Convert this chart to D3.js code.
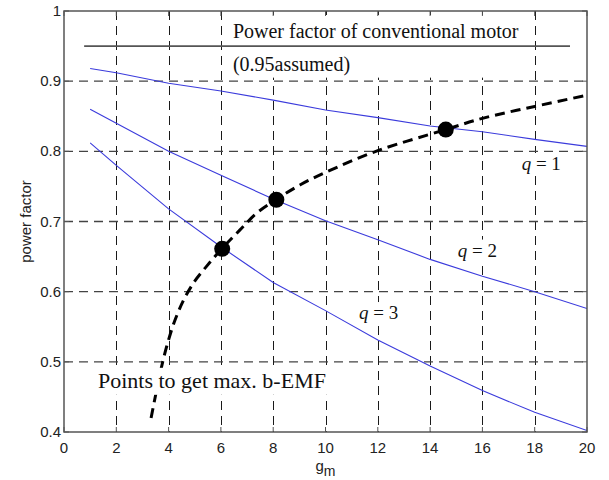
<!DOCTYPE html>
<html lang="en">
  <head>
    <meta charset="UTF-8" />
    <title>Power factor vs gm</title>
    <script src="https://d3js.org/d3.v7.min.js"></script>
    <style>
      body {
        margin: 0;
        padding: 0;
        background: #fff;
      }
      .tick-label {
        font-family: "Liberation Sans", Arial, sans-serif;
        font-size: 15px;
        fill: #222;
      }
      .note {
        font-family: "Liberation Serif", "Times New Roman", serif;
        font-size: 18px;
        fill: #111;
      }
    </style>
  </head>
  <body>
    <svg id="chart" width="609" height="480"></svg>

    <script>
      // data
      var gm = [1, 2, 4, 6, 8, 10, 12, 14, 16, 18, 20];
      var pfQ1 = [0.918, 0.912, 0.897, 0.886, 0.873, 0.859, 0.848, 0.836, 0.828, 0.817, 0.807];
      var pfQ2 = [0.860, 0.840, 0.800, 0.766, 0.732, 0.701, 0.674, 0.646, 0.622, 0.600, 0.576];
      var pfQ3 = [0.812, 0.780, 0.718, 0.664, 0.613, 0.573, 0.531, 0.494, 0.459, 0.428, 0.402];

      var maxX = [3.33, 3.5, 3.7, 3.95, 4.25, 4.6, 5.0, 5.45, 6.03, 6.73, 7.37, 8.1, 9.02, 10, 12, 14.6, 16, 18, 20];
      var maxY = [0.42, 0.452, 0.488, 0.525, 0.56, 0.59, 0.615, 0.636, 0.661, 0.688, 0.712, 0.731, 0.752, 0.77, 0.801, 0.831, 0.847, 0.864, 0.88];

      var dotX = [6.05, 8.12, 14.6];
      var dotY = [0.661, 0.731, 0.831];

      var refX = [0.77, 19.35];
      var refY = 0.95;

      var xTicks = [0, 2, 4, 6, 8, 10, 12, 14, 16, 18, 20];
      var yTicks = [0.4, 0.5, 0.6, 0.7, 0.8, 0.9, 1];
      var yTickLabels = ["0.4", "0.5", "0.6", "0.7", "0.8", "0.9", "1"];

      var svg = d3.select("#chart");

      var x = d3.scaleLinear().domain([0, 20]).range([64, 587]);
      var y = d3.scaleLinear().domain([0.4, 1]).range([432, 11]);

      svg.append("defs").append("clipPath").attr("id", "plot-clip")
        .append("rect")
        .attr("x", x(0)).attr("y", y(1))
        .attr("width", x(20) - x(0)).attr("height", y(0.4) - y(1));

      var plot = svg.append("g").attr("clip-path", "url(#plot-clip)");

      // grid
      plot.selectAll(".vgrid")
        .data(xTicks.slice(1, -1))
        .enter()
        .append("line")
        .attr("x1", function (d) { return Math.round(x(d)) + 0.5; })
        .attr("x2", function (d) { return Math.round(x(d)) + 0.5; })
        .attr("y1", y(1)).attr("y2", y(0.4))
        .attr("stroke", "#1a1a1a")
        .attr("stroke-dasharray", "9,6");

      plot.selectAll(".hgrid")
        .data(yTicks.slice(1, -1))
        .enter()
        .append("line")
        .attr("y1", function (d) { return y(d); })
        .attr("y2", function (d) { return y(d); })
        .attr("x1", x(0)).attr("x2", x(20))
        .attr("stroke", "#444")
        .attr("stroke-width", 1.3)
        .attr("stroke-dasharray", "9,6");

      // blue curves
      var line = d3.line()
        .x(function (d, i) { return x(gm[i]); })
        .y(function (d) { return y(d); });

      plot.selectAll(".q")
        .data([pfQ1, pfQ2, pfQ3])
        .enter()
        .append("path")
        .attr("d", line)
        .attr("fill", "none")
        .attr("stroke", "#3b3bdc")
        .attr("stroke-width", 1.1);

      // max b-EMF curve
      var maxLine = d3.line()
        .x(function (d, i) { return x(maxX[i]); })
        .y(function (d) { return y(d); })
        .curve(d3.curveCatmullRom);

      plot.append("path")
        .datum(maxY)
        .attr("d", maxLine)
        .attr("fill", "none")
        .attr("stroke", "#000")
        .attr("stroke-width", 3)
        .attr("stroke-dasharray", "10,6");

      plot.selectAll(".dot")
        .data(dotY)
        .enter()
        .append("circle")
        .attr("cx", function (d, i) { return x(dotX[i]); })
        .attr("cy", function (d) { return y(d); })
        .attr("r", 8)
        .attr("fill", "#000");

      // annotation boxes
      function note(parent, px, py, str, size) {
        return parent.append("text").attr("class", "note")
          .attr("x", px).attr("y", py)
          .style("font-size", size + "px")
          .text(str);
      }

      var topNote = plot.append("g");
      var topBg = topNote.append("rect").attr("fill", "#fff");
      note(topNote, x(6.46), y(0.962), "Power factor of conventional motor", 20);
      note(topNote, x(6.46), y(0.915), "(0.95assumed)", 20);
      var tb = topNote.node().getBBox();
      topBg.attr("x", tb.x - 5).attr("y", y(1) + 4)
        .attr("width", tb.width + 10).attr("height", tb.y + tb.height + 2 - y(1) - 4);

      plot.append("line")
        .attr("x1", x(refX[0])).attr("x2", x(refX[1]))
        .attr("y1", y(refY)).attr("y2", y(refY))
        .attr("stroke", "#555")
        .attr("stroke-width", 1.6);

      var botNote = plot.append("g");
      var botBg = botNote.append("rect").attr("fill", "#fff");
      note(botNote, x(1.3), y(0.463), "Points to get max. b-EMF", 22);
      var bb = botNote.node().getBBox();
      botBg.attr("x", bb.x - 3).attr("y", bb.y)
        .attr("width", bb.width + 6).attr("height", bb.height + 2);

      // q labels
      var qLabels = [
        { gx: 17.5, pf: 0.7734, n: "1" },
        { gx: 15.06, pf: 0.650, n: "2" },
        { gx: 11.28, pf: 0.561, n: "3" },
      ];
      qLabels.forEach(function (d) {
        var g = plot.append("g");
        var bg = g.append("rect").attr("fill", "#fff");
        var t = g.append("text").attr("class", "note")
          .style("font-size", "19px")
          .attr("x", x(d.gx)).attr("y", y(d.pf));
        t.append("tspan").attr("font-style", "italic").text("q");
        t.append("tspan").text(" = " + d.n);
        var b = g.node().getBBox();
        bg.attr("x", b.x - 2).attr("y", b.y)
          .attr("width", b.width + 4).attr("height", b.height);
      });

      // box and inward ticks
      var axisColor = "#555";
      svg.append("rect")
        .attr("x", x(0)).attr("y", y(1))
        .attr("width", x(20) - x(0)).attr("height", y(0.4) - y(1))
        .attr("fill", "none")
        .attr("stroke", axisColor)
        .attr("stroke-width", 1.5);

      var tickLen = 5;
      xTicks.forEach(function (d) {
        svg.append("line").attr("x1", x(d)).attr("x2", x(d))
          .attr("y1", y(0.4)).attr("y2", y(0.4) - tickLen)
          .attr("stroke", axisColor);
        svg.append("line").attr("x1", x(d)).attr("x2", x(d))
          .attr("y1", y(1)).attr("y2", y(1) + tickLen)
          .attr("stroke", axisColor);
      });
      yTicks.forEach(function (d) {
        svg.append("line").attr("y1", y(d)).attr("y2", y(d))
          .attr("x1", x(0)).attr("x2", x(0) + tickLen)
          .attr("stroke", axisColor);
        svg.append("line").attr("y1", y(d)).attr("y2", y(d))
          .attr("x1", x(20)).attr("x2", x(20) - tickLen)
          .attr("stroke", axisColor);
      });

      svg.selectAll(".xlab")
        .data(xTicks)
        .enter()
        .append("text")
        .attr("class", "tick-label")
        .attr("x", function (d) { return x(d); })
        .attr("y", y(0.4) + 21)
        .attr("text-anchor", "middle")
        .text(function (d) { return d; });

      svg.selectAll(".ylab")
        .data(yTicks)
        .enter()
        .append("text")
        .attr("class", "tick-label")
        .attr("x", x(0) - 3)
        .attr("y", function (d) { return y(d) + 5; })
        .attr("text-anchor", "end")
        .text(function (d, i) { return yTickLabels[i]; });

      // axis titles
      var xt = svg.append("text").attr("class", "tick-label")
        .attr("x", x(10)).attr("y", 471)
        .attr("text-anchor", "middle");
      xt.append("tspan").text("g");
      xt.append("tspan").attr("dy", 5).attr("font-size", "14px").text("m");

      svg.append("text").attr("class", "tick-label")
        .attr("transform", "translate(31," + y(0.7) + ") rotate(-90)")
        .attr("text-anchor", "middle")
        .text("power factor");
    </script>
  </body>
</html>
